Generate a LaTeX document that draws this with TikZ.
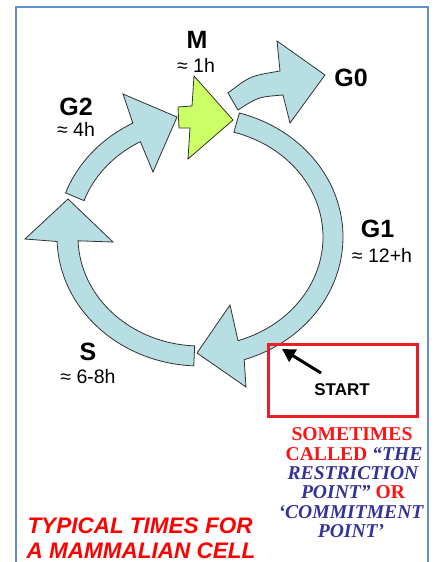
\documentclass[tikz,border=0pt]{standalone}
\usepackage{fontspec}
\setmainfont{Liberation Sans}
\newfontfamily\tms{Liberation Serif}
\usetikzlibrary{arrows.meta}
\definecolor{ringfill}{RGB}{183,222,226}
\definecolor{ringline}{RGB}{50,50,50}
\definecolor{mgreen}{RGB}{204,255,102}
\definecolor{boxred}{RGB}{232,30,40}
\definecolor{textred}{RGB}{250,20,20}
\definecolor{textblue}{RGB}{51,51,153}
\definecolor{frameblue}{RGB}{95,142,210}
\tikzset{
  ringpart/.style={fill=ringfill, draw=ringline, line width=0.8pt, line join=miter},
  mpart/.style={fill=mgreen, draw=ringline, line width=0.8pt},
  phase/.style={font=\bfseries\fontsize{25}{25}\selectfont, anchor=base, inner sep=0pt},
  dur/.style={font=\fontsize{19.5}{19.5}\selectfont, anchor=base, inner sep=0pt},
  note/.style={font=\tms\bfseries\fontsize{19.6}{19.6}\selectfont, anchor=base, inner sep=0pt},
  typ/.style={font=\bfseries\itshape\fontsize{22.5}{22.5}\selectfont, text=red, anchor=base, inner sep=0pt}
}
\begin{document}
\begin{tikzpicture}[x=1pt,y=-1pt]
\useasboundingbox (0,0) rectangle (438,562);
\fill[white] (0,0) rectangle (438,562);
% frame
\draw[frameblue, line width=2pt] (16,562) -- (16,7) -- (428,7) -- (428,562);

% G1 arc (top right, clockwise down to bottom)
\path[ringpart] plot[domain=-74:72,samples=70] ({200+143*cos(\x)},{237+129*sin(\x)})
  -- (246,387) -- (197,353) -- (230,305)
  -- plot[domain=72:-74,samples=70] ({200+123*cos(\x)},{237+109*sin(\x)}) -- cycle;
% S arc (bottom to left)
\path[ringpart] plot[domain=92.5:178,samples=50] ({200+143*cos(\x)},{237+129*sin(\x)})
  -- (25,239) -- (68,199) -- (113,242)
  -- plot[domain=178:92.5,samples=50] ({200+122*cos(\x)},{237+109*sin(\x)}) -- cycle;
% G2 arc (left to top)
\path[ringpart] plot[domain=200:242,samples=30] ({200+143*cos(\x)},{237+129*sin(\x)})
  -- (123,94) -- (177,117) -- (153,172)
  -- plot[domain=241:199.5,samples=30] ({200+123*cos(\x)},{237+109*sin(\x)}) -- cycle;
% G0 branch
\path[ringpart] (228,93) .. controls (250,76) .. (280,71) -- (277,41) -- (325,75)
  -- (290,123) -- (283,95) .. controls (258,97) .. (238,110) -- cycle;
% M
\path[mpart] (194,76) -- (192,106) -- (178,107) -- (179,128) -- (190,128)
  -- (188,159) -- (233,120) -- cycle;

% phase labels
\node[phase] (lM) at (197,48) {M};
\node[dur] (dM) at (196,72) {≈ 1h};
\node[phase] (lG0) at (351,86) {G0};
\node[phase] (lG2) at (76,115) {G2};
\node[dur] (dG2) at (76,136) {≈ 4h};
\node[phase] (lG1) at (377.5,237) {G1};
\node[dur] (dG1) at (382,262) {≈ 12+h};
\node[phase] (lS) at (88,360) {S};
\node[dur] (dS) at (88,383) {≈ 6-8h};

% start box
\node[draw=boxred, line width=3pt, minimum width=149pt, minimum height=72pt, inner sep=0pt] (startbox) at (343,380.5) {};
\node[font=\bfseries\fontsize{17}{17}\selectfont, anchor=base, inner sep=0pt] (start) at (342,395) {START};
\coordinate (arrA) at (321,373);
\coordinate (arrB) at (282,349);
\draw[line width=3pt, -{Triangle[length=13pt,width=14pt]}] (arrA) -- (arrB);

% note
\node[note, text=textred] (n1) at (352,440) {SOMETIMES};
\node[note] (n2) at (354,460) {\textcolor{textred}{CALLED} \textcolor{textblue}{\itshape “THE}};
\node[note, text=textblue] (n3) at (353,479) {\itshape RESTRICTION};
\node[note] (n4) at (353,498.5) {\textcolor{textblue}{\itshape POINT”} \textcolor{textred}{OR}};
\node[note, text=textblue] (n5) at (351,518) {\itshape ‘COMMITMENT};
\node[note, text=textblue] (n6) at (351,537) {\itshape POINT’};

% typical times
\node[typ] (t1) at (140,533) {TYPICAL TIMES FOR};
\node[typ] (t2) at (141,558.5) {A MAMMALIAN CELL};
\end{tikzpicture}
\end{document}
